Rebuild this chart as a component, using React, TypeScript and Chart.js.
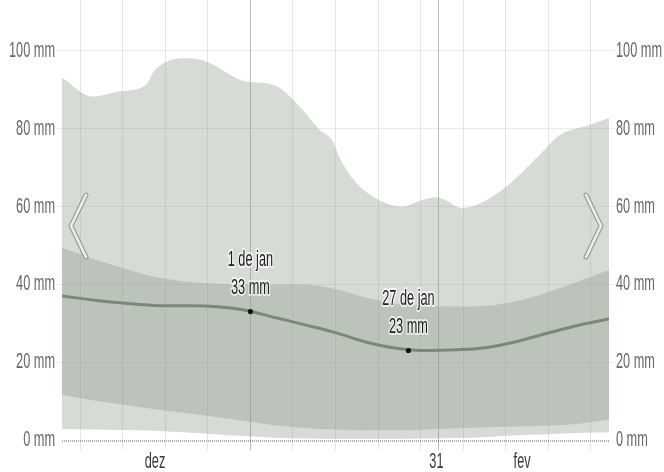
import React, { useEffect, useRef } from "react";
import { Chart, registerables } from "chart.js";

Chart.register(...registerables);

// Day offsets from 1 Dec (0) to end of Feb (90)
const days = [0, 5, 10, 15, 20, 25, 30, 35, 40, 45, 50, 55, 60, 65, 70, 75, 80, 85, 90];
const median = [37.0, 36.0, 35.2, 34.6, 34.5, 34.3, 33.4, 31.5, 29.6, 27.6, 25.2, 23.6, 23.0, 23.2, 23.8, 25.4, 27.5, 29.5, 31.1];
const p75 = [49.4, 46.6, 44.2, 42.0, 40.8, 40.2, 39.9, 40.0, 40.0, 38.8, 36.6, 35.0, 34.5, 34.3, 34.5, 35.8, 38.0, 40.8, 43.7];
const p25 = [11.6, 10.2, 9.1, 8.0, 7.0, 6.0, 4.9, 3.8, 3.1, 2.7, 2.5, 2.5, 2.7, 3.0, 3.3, 3.5, 3.7, 4.2, 5.2];
const p10 = [2.8, 2.7, 2.6, 2.4, 2.0, 1.5, 1.0, 0.6, 0.4, 0.3, 0.3, 0.3, 0.4, 0.5, 0.8, 1.2, 1.5, 1.8, 2.0];

const p90Days = [0, 5, 9.5, 13.9, 15, 19.9, 23, 30.4, 33.7, 35.9, 39.1, 42.4, 44.4, 46, 48.2, 51.2, 55.9, 58.9, 61.6, 63.3, 65.7, 72, 78.6, 81.9, 86.8, 90];
const p90 = [93.1, 88.3, 89.6, 91.3, 94.5, 98.1, 97.7, 92.1, 91.7, 90.4, 85.7, 79.7, 77.1, 71.5, 66.5, 62.5, 60.0, 61.5, 62.4, 61.5, 59.6, 63.8, 73.3, 78.4, 81.0, 82.8];

const weekLines = [3, 10, 17, 24, 31, 38, 45, 52, 59, 66, 73, 80, 87];
const monthLines = [31, 62];
const monthLabels = ["dez", "31", "fev"];
const monthLabelDays = [15.3, 61.6, 75.7];
const yTicks = [0, 20, 40, 60, 80, 100];
const yMax = 113.1;

const annDays = [31, 57];
const annValues = [33, 23];
const annDates = ["1 de jan", "27 de jan"];

const FONT = '22px "Liberation Sans Narrow", "Arial Narrow", "Liberation Sans", Arial, sans-serif';

const pts = (xs: number[], ys: number[]) => xs.map((x, i) => ({ x, y: ys[i] }));

function drawText(ctx: CanvasRenderingContext2D, sx: number, text: string, x: number, y: number, align: CanvasTextAlign, color: string, halo = false) {
  ctx.save();
  ctx.translate(x, y);
  ctx.scale(sx, 1);
  ctx.font = FONT;
  ctx.textAlign = align;
  ctx.textBaseline = "middle";
  if (halo) {
    ctx.lineWidth = 4;
    ctx.lineJoin = "round";
    ctx.strokeStyle = "rgba(255,255,255,0.7)";
    ctx.strokeText(text, 0, 0);
  }
  ctx.fillStyle = color;
  ctx.fillText(text, 0, 0);
  ctx.restore();
}

function chevron(ctx: CanvasRenderingContext2D, ax: number, armX: number, cy: number) {
  ctx.save();
  ctx.lineJoin = "round";
  ctx.lineCap = "round";
  const path = () => {
    ctx.beginPath();
    ctx.moveTo(armX, cy - 31);
    ctx.lineTo(ax, cy);
    ctx.lineTo(armX, cy + 31);
  };
  path();
  ctx.strokeStyle = "#9a9a9a";
  ctx.lineWidth = 5;
  ctx.stroke();
  path();
  ctx.strokeStyle = "#eceeeb";
  ctx.lineWidth = 2.6;
  ctx.stroke();
  ctx.restore();
}

const overlay = {
  id: "overlay",
  afterDatasetsDraw(chart: any) {
    const ctx: CanvasRenderingContext2D = chart.ctx;
    const { left, right } = chart.chartArea;
    const xs = chart.scales.x;
    const ys = chart.scales.y;

    ctx.save();
    ctx.font = FONT;
    const sx = 46 / ctx.measureText("100 mm").width;
    ctx.restore();

    // dotted zero line
    const y0 = ys.getPixelForValue(0) + 1;
    ctx.save();
    ctx.strokeStyle = "rgba(0,0,0,0.32)";
    ctx.lineWidth = 2;
    ctx.setLineDash([1, 1]);
    ctx.beginPath();
    ctx.moveTo(left, y0);
    ctx.lineTo(right, y0);
    ctx.stroke();
    ctx.restore();

    // navigation chevrons
    chevron(ctx, left + 9, left + 24, 226);
    chevron(ctx, right - 8, right - 23, 226);

    // y labels
    yTicks.forEach((v) => {
      const y = ys.getPixelForValue(v);
      drawText(ctx, sx, `${v} mm`, 55, y, "right", "#666");
      drawText(ctx, sx, `${v} mm`, 616, y, "left", "#666");
    });

    // x labels
    monthLabels.forEach((t, i) => {
      drawText(ctx, sx, t, xs.getPixelForValue(monthLabelDays[i]), 462, "center", "#3a3a3a");
    });

    // annotations
    annDays.forEach((d, i) => {
      const x = xs.getPixelForValue(d);
      const y = ys.getPixelForValue(annValues[i]);
      ctx.save();
      ctx.fillStyle = "#111";
      ctx.beginPath();
      ctx.arc(x, y, 2.6, 0, Math.PI * 2);
      ctx.fill();
      ctx.restore();
      drawText(ctx, sx, annDates[i], x, y - 52, "center", "#1e1e1e", true);
      drawText(ctx, sx, `${annValues[i]} mm`, x, y - 24, "center", "#1e1e1e", true);
    });
  },
};

export default function App() {
  const ref = useRef<HTMLCanvasElement | null>(null);

  useEffect(() => {
    if (!ref.current) return;
    const gridDays = Array.from(new Set([...weekLines, ...monthLines])).sort((a, b) => a - b);
    const chart = new Chart(ref.current, {
      type: "line",
      data: {
        datasets: [
          {
            data: pts(p90Days, p90),
            borderWidth: 0,
            pointRadius: 0,
            fill: 4,
            backgroundColor: "rgba(138,152,135,0.35)",
            cubicInterpolationMode: "monotone",
          },
          {
            data: pts(days, p75),
            borderWidth: 0,
            pointRadius: 0,
            fill: 3,
            backgroundColor: "rgba(148,156,142,0.36)",
            cubicInterpolationMode: "monotone",
          },
          {
            data: pts(days, median),
            borderWidth: 3,
            borderColor: "#607359",
            pointRadius: 0,
            fill: false,
            cubicInterpolationMode: "monotone",
          },
          {
            data: pts(days, p25),
            borderWidth: 0,
            pointRadius: 0,
            fill: false,
            cubicInterpolationMode: "monotone",
          },
          {
            data: pts(days, p10),
            borderWidth: 0,
            pointRadius: 0,
            fill: false,
            cubicInterpolationMode: "monotone",
          },
        ],
      } as any,
      options: {
        animation: false,
        responsive: false,
        devicePixelRatio: 1,
        layout: { padding: 0 },
        plugins: { legend: { display: false }, tooltip: { enabled: false } },
        events: [],
        scales: {
          x: {
            type: "linear",
            min: 0,
            max: 90,
            afterBuildTicks: (s: any) => {
              s.ticks = gridDays.map((v) => ({ value: v }));
            },
            afterFit: (s: any) => {
              s.height = 32;
            },
            ticks: { display: false },
            border: { display: false },
            grid: {
              drawTicks: true,
              tickLength: 10,
              color: (c: any) =>
                monthLines.includes(c.tick?.value) ? "rgba(0,0,0,0.26)" : "rgba(0,0,0,0.1)",
            },
          },
          y: {
            type: "linear",
            position: "left",
            min: 0,
            max: yMax,
            afterBuildTicks: (s: any) => {
              s.ticks = yTicks.map((v) => ({ value: v }));
            },
            afterFit: (s: any) => {
              s.width = 62;
            },
            ticks: { display: false },
            border: { display: false },
            grid: {
              drawTicks: true,
              tickLength: 5,
              color: (c: any) => (c.tick?.value === 0 ? "rgba(0,0,0,0)" : "rgba(0,0,0,0.08)"),
            },
          },
          y2: {
            type: "linear",
            position: "right",
            min: 0,
            max: yMax,
            afterBuildTicks: (s: any) => {
              s.ticks = yTicks.map((v) => ({ value: v }));
            },
            afterFit: (s: any) => {
              s.width = 55;
            },
            ticks: { display: false },
            border: { display: false },
            grid: {
              drawOnChartArea: false,
              drawTicks: true,
              tickLength: 5,
              color: (c: any) => (c.tick?.value === 0 ? "rgba(0,0,0,0)" : "rgba(0,0,0,0.08)"),
            },
          },
        },
      } as any,
      plugins: [overlay],
    });
    return () => chart.destroy();
  }, []);

  return (
    <div style={{ position: "fixed", left: 0, top: 0, width: 664, height: 472, background: "#fff" }}>
      <canvas ref={ref} width={664} height={472} style={{ width: 664, height: 472, display: "block" }} />
    </div>
  );
}
